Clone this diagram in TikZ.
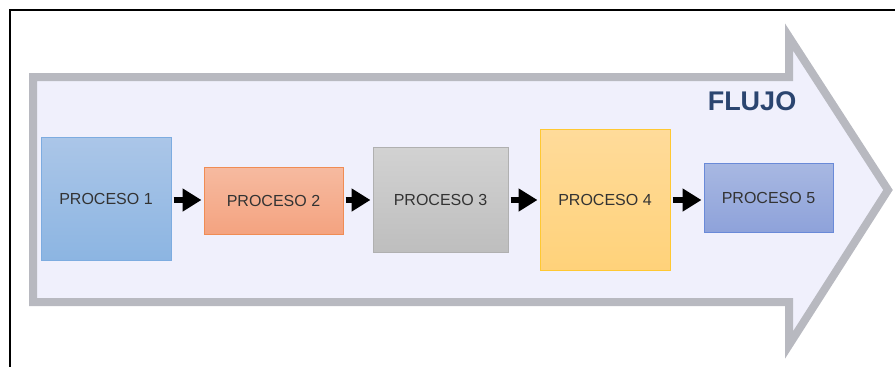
\documentclass[tikz,border=0pt]{standalone}
\usepackage{fontspec}
\setmainfont{Liberation Sans}
\usepackage{xcolor}
\usetikzlibrary{arrows.meta, positioning}
\definecolor{flowfill}{RGB}{240,240,252}
\definecolor{flowline}{RGB}{184,185,192}
\definecolor{flowtext}{RGB}{43,69,112}
\definecolor{p1top}{RGB}{171,198,232}
\definecolor{p1bot}{RGB}{140,181,226}
\definecolor{p1line}{RGB}{125,172,224}
\definecolor{p2top}{RGB}{246,186,160}
\definecolor{p2bot}{RGB}{244,163,128}
\definecolor{p2line}{RGB}{240,140,84}
\definecolor{p3top}{RGB}{210,210,210}
\definecolor{p3bot}{RGB}{190,190,190}
\definecolor{p3line}{RGB}{176,176,176}
\definecolor{p4top}{RGB}{255,219,154}
\definecolor{p4bot}{RGB}{255,210,122}
\definecolor{p4line}{RGB}{255,200,50}
\definecolor{p5top}{RGB}{168,184,226}
\definecolor{p5bot}{RGB}{142,162,218}
\definecolor{p5line}{RGB}{106,138,216}

\begin{document}
\begin{tikzpicture}[
    x=1pt, y=-1pt,
    process/.style={draw, line width=1pt, inner sep=0pt, font=\fontsize{16}{18}\selectfont, text=black!80},
    flow/.style={-{Triangle[length=19pt,width=22pt]}, line width=6pt, shorten <=2pt, shorten >=2pt}
]
    \useasboundingbox (0,0) rectangle (895,367);

    % Frame
    \draw[line width=2pt] (895,10) -- (10,10) -- (10,367);

    % Big arrow
    \draw[line width=8pt, flowline, fill=flowfill, line join=miter]
        (33,77) -- (789,77) -- (789,37) -- (888,190) -- (789,345) -- (789,302) -- (33,302) -- cycle;
    \node[font=\fontsize{27}{30}\selectfont\bfseries, text=flowtext] (flujo) at (752,101) {FLUJO};

    % Processes
    \node[process, top color=p1top, bottom color=p1bot, draw=p1line, minimum width=130pt, minimum height=123pt] (proc1) at (106,198.5) {PROCESO 1};
    \node[process, top color=p2top, bottom color=p2bot, draw=p2line, minimum width=139pt, minimum height=67pt] (proc2) at (273.5,200.5) {PROCESO 2};
    \node[process, top color=p3top, bottom color=p3bot, draw=p3line, minimum width=135pt, minimum height=105pt] (proc3) at (440.5,199.5) {PROCESO 3};
    \node[process, top color=p4top, bottom color=p4bot, draw=p4line, minimum width=130pt, minimum height=141pt] (proc4) at (605,199.5) {PROCESO 4};
    \node[process, top color=p5top, bottom color=p5bot, draw=p5line, minimum width=129pt, minimum height=69pt] (proc5) at (768.5,197.5) {PROCESO 5};

    % Connectors
    \draw[flow] (proc1.east |- 0,200) -- (proc2.west |- 0,200);
    \draw[flow] (proc2.east |- 0,200) -- (proc3.west |- 0,200);
    \draw[flow] (proc3.east |- 0,200) -- (proc4.west |- 0,200);
    \draw[flow] (proc4.east |- 0,200) -- (proc5.west |- 0,200);
\end{tikzpicture}
\end{document}
